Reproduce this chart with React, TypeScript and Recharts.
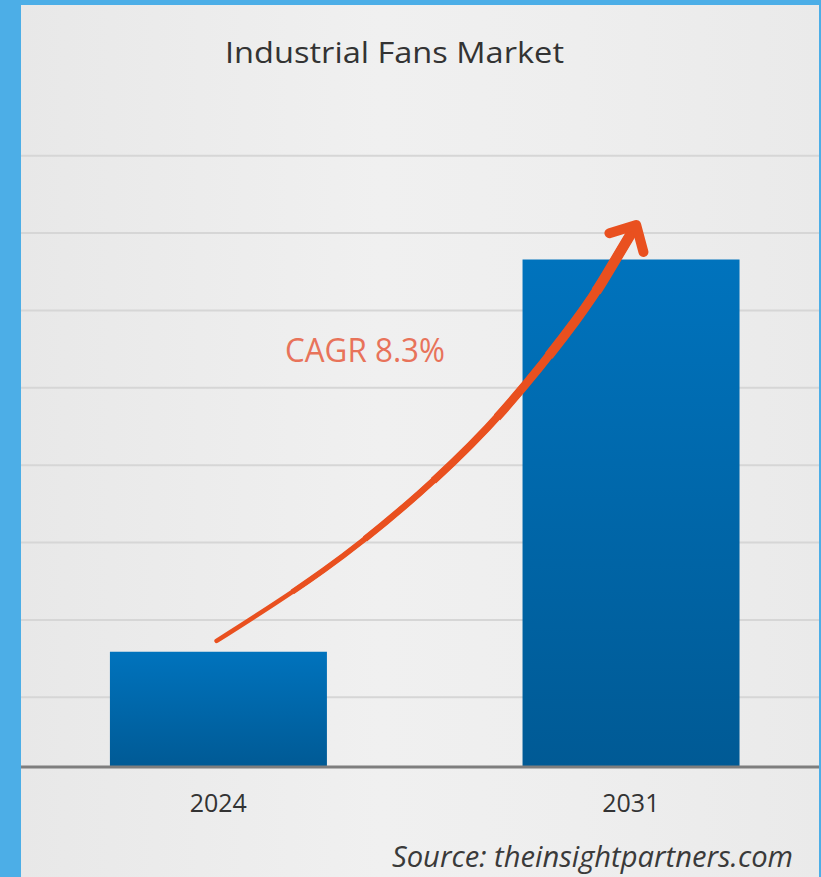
import React from 'react';
import { ComposedChart, Bar, Line, XAxis, YAxis, CartesianGrid } from 'recharts';

// ---- data ----
const years = ['2024', '2031'];
const marketValues = [14.9, 65.6];
const gridTicks = [9, 19, 29, 39, 49, 59, 69, 79];
// CAGR arrow path, in chart data units (x: category index, y: value)
const arrowX = [-0.004, 0.256, 0.488, 0.691, 0.865, 0.942, 1.013];
const arrowY = [16.3, 25.45, 35.4, 46.1, 57.6, 63.7, 70.05];

const title = 'Industrial Fans Market';
const cagrLabel = 'CAGR 8.3%';
const sourceLabel = 'Source: theinsightpartners.com';

const barData = years.map((year, i) => ({ x: i, year, value: marketValues[i] }));
const arrowData = arrowX.map((x, i) => ({ x, y: arrowY[i] }));

const X_DOMAIN: [number, number] = [-0.478, 1.456];
const Y_DOMAIN: [number, number] = [0, 80];
const FONT = '"Open Sans", "Noto Sans", sans-serif';
const ARROW = '#E9501F';

// stroke layers that make the arrow thicken toward its head: [width, start offset along path]
const arrowLayers: [number, number][] = [
  [4.5, 0],
  [5.5, 90],
  [6.5, 180],
  [7.5, 270],
  [8.5, 360],
  [9.5, 440],
  [10.5, 520],
];

const YearTick = (props: any) => {
  const { x, y, payload } = props;
  return (
    <text x={x} y={y + 45} textAnchor="middle" fontFamily={FONT} fontSize={25} fill="#333">
      {years[payload.value]}
    </text>
  );
};

const ArrowHead = (props: any) => {
  const { cx, cy, index } = props;
  if (index !== arrowData.length - 1 || cx == null) return <g key={`d${index}`} />;
  const back = Math.atan2(245, -136);
  const spread = (44 * Math.PI) / 180;
  const len = 28;
  const a1 = back + spread;
  const a2 = back - spread;
  const d = `M${cx + Math.cos(a1) * len},${cy + Math.sin(a1) * len} L${cx},${cy} L${cx + Math.cos(a2) * len},${cy + Math.sin(a2) * len}`;
  return (
    <path key={`d${index}`} d={d} fill="none" stroke={ARROW} strokeWidth={10} strokeLinecap="round" strokeLinejoin="round" />
  );
};

const noDot = (props: any) => <g key={`n${props.index}`} />;

// grid lines only at the value ticks (linear value -> plot pixel mapping)
const gridGenerator = (args: any) => {
  const off = args.offset;
  const [d0, d1] = Y_DOMAIN;
  return gridTicks.map((t) => off.top + off.height * (1 - (t - d0) / (d1 - d0)));
};

export default function App() {
  return (
    <div style={{ position: 'absolute', left: 0, top: 0, width: 821, height: 877, background: '#4CAEE7', overflow: 'hidden' }}>
      <div
        style={{
          position: 'absolute',
          left: 21,
          top: 5,
          width: 798,
          height: 872,
          background: 'linear-gradient(90deg, #E8E8E8 0%, #F0F0F0 45%, #EEEEEE 70%, #EAEAEA 100%)',
        }}
      />
      <div style={{ position: 'absolute', left: 0, top: 0 }}>
        <ComposedChart width={821} height={877} data={barData} margin={{ top: 148, right: 2, bottom: 60, left: 21 }}>
          <defs>
            <linearGradient id="barGrad" x1="0" y1="0" x2="0" y2="1">
              <stop offset="0%" stopColor="#0073BD" />
              <stop offset="100%" stopColor="#005A95" />
            </linearGradient>
          </defs>
          <CartesianGrid
            horizontal
            vertical={false}
            stroke="#D6D6D6"
            strokeWidth={2}
            horizontalCoordinatesGenerator={gridGenerator}
          />
          <YAxis hide type="number" domain={Y_DOMAIN} ticks={gridTicks} allowDataOverflow />
          <XAxis
            dataKey="x"
            type="number"
            domain={X_DOMAIN}
            ticks={[0, 1]}
            allowDataOverflow
            height={50}
            tickSize={0}
            tickMargin={0}
            tickLine={false}
            axisLine={{ stroke: '#7E7E7E', strokeWidth: 3 }}
            tick={<YearTick />}
          />
          <XAxis xAxisId="arrow" dataKey="x" type="number" domain={X_DOMAIN} allowDataOverflow hide height={50} />
          <Bar dataKey="value" barSize={217} fill="url(#barGrad)" isAnimationActive={false} />
          {arrowLayers.map(([w, start], i) => (
            <Line
              key={`arrow${i}`}
              xAxisId="arrow"
              data={arrowData}
              dataKey="y"
              type="natural"
              stroke={ARROW}
              strokeWidth={w}
              strokeLinecap={i === 0 ? 'round' : 'butt'}
              strokeDasharray={i === 0 ? undefined : `0 ${start} 3000`}
              dot={i === arrowLayers.length - 1 ? ArrowHead : noDot}
              activeDot={false}
              isAnimationActive={false}
            />
          ))}
        </ComposedChart>
      </div>
      <svg width={821} height={877} style={{ position: 'absolute', left: 0, top: 0, pointerEvents: 'none' }}>
        <text x={394.5} y={63} textAnchor="middle" fontFamily={FONT} fontSize={29} fill="#333" textLength={339} lengthAdjust="spacingAndGlyphs">
          {title}
        </text>
        <text x={285} y={362} fontFamily={FONT} fontSize={32} fill="#E8735A" textLength={160} lengthAdjust="spacingAndGlyphs">
          {cagrLabel}
        </text>
        <text x={392} y={867} fontFamily={FONT} fontStyle="italic" fontSize={29} fill="#3A3A3A" textLength={401} lengthAdjust="spacingAndGlyphs">
          {sourceLabel}
        </text>
      </svg>
    </div>
  );
}
